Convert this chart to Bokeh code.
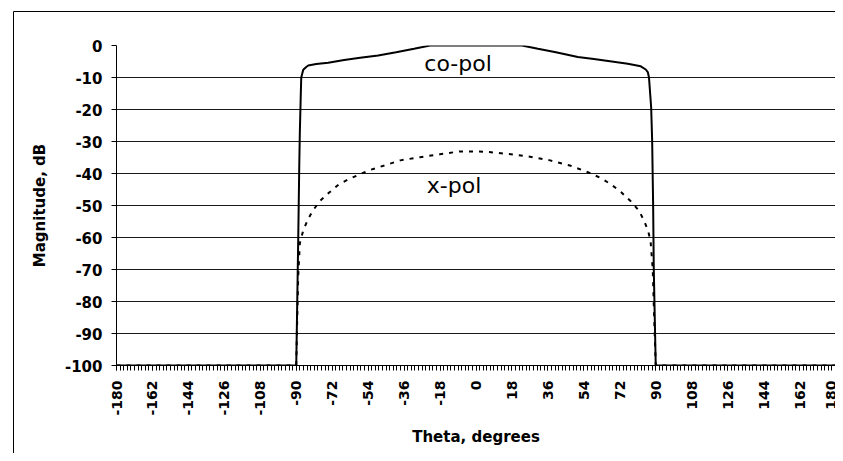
import math
from bokeh.plotting import figure
from bokeh.models import Range1d, FixedTicker
from bokeh.core.properties import value
from bokeh.embed import file_html
from bokeh.resources import INLINE

# ---- data ----
theta_co = [-180, -90, -89.5, -89, -88.5, -88.2, -87.8, -87.5, -86.5, -85, -84,
            -80, -74, -66, -58, -49, -40, -31, -23, 0, 23, 31, 40, 51, 59, 68,
            76, 82.5, 85, 86, 86.6, 87.7, 88.2, 88.7, 89, 89.5, 90, 180]
co_pol = [-100, -100, -80, -60, -38, -27, -17, -10, -7.6, -6.7, -6.25,
          -5.8, -5.4, -4.5, -3.8, -3.1, -2.1, -1.0, 0, 0, 0, -1.0, -2.1, -3.6, -4.2, -5.0,
          -5.7, -6.5, -7.5, -8.3, -9.9, -19.3, -29.7, -50.5, -69.3, -85, -100, -100]

theta_x = [-180, -90, -89.5, -89, -88.2, -86.5, -84.4, -81.9, -78.3, -73.8, -68.7,
           -63.8, -53.6, -43.4, -37.9, -28, -18.1, -8.2, 0, 6.6, 16.5, 26.4, 37.1,
           47, 56.9, 62.7, 67.6, 72.6, 77.5, 81.6, 84.1, 86.1, 87.4, 88.5, 89.2, 90, 180]
x_pol = [-100, -100, -85, -72, -61.8, -57.8, -54.7, -51.8, -48.7, -46.1, -43.4,
         -41.8, -39, -37, -35.9, -34.9, -34, -33.1, -33.1, -33.3, -33.9, -34.7, -35.9,
         -37.5, -39.8, -41.5, -43.4, -45.8, -48.7, -51.6, -54.7, -57.8, -61, -70, -85, -100, -100]

x_ticks = list(range(-180, 181, 18))
y_ticks = list(range(-100, 1, 10))
x_minor = [round(-180 + 1.8 * i, 2) for i in range(201)]

LABEL_FONT = value("DejaVu Sans")
p = figure(width=835, height=453, output_backend="svg", toolbar_location=None,
           x_range=Range1d(-180, 180), y_range=Range1d(-100, 0),
           min_border_left=116, min_border_right=0, min_border_top=45,
           min_border_bottom=88)
p.outline_line_color = None
p.background_fill_color = "white"
p.border_fill_color = None
# outer chart-area border: left and top edges only (the rest runs off the page)
border_svg = ("url(\"data:image/svg+xml;utf8,<svg xmlns='http://www.w3.org/2000/svg' "
              "width='835' height='453'><path d='M13.5 453 V11.5 H835' fill='none' "
              "stroke='black' stroke-width='1'/></svg>\")")
p.styles = {
    "background-color": "white",
    "background-image": border_svg,
    "background-repeat": "no-repeat",
    "background-position": "0 0",
}

# grid
p.xgrid.visible = False
p.ygrid.ticker = FixedTicker(ticks=y_ticks)
p.ygrid.grid_line_color = "#1a1a1a"
p.ygrid.grid_line_width = 1

# x axis
xa = p.xaxis[0]
xa.ticker = FixedTicker(ticks=x_ticks, minor_ticks=x_minor)
xa.major_label_overrides = {t: str(t) for t in x_ticks}
xa.major_label_orientation = math.pi / 2
xa.major_label_text_font = "DejaVu Sans"
xa.major_label_text_font_style = "bold"
xa.major_label_text_font_size = "14px"
xa.major_label_text_color = "black"
xa.major_tick_out = 5
xa.major_tick_in = 0
xa.minor_tick_out = 5
xa.minor_tick_in = 0
xa.major_label_standoff = 10
xa.axis_line_color = "black"
xa.axis_label = "Theta, degrees"
xa.axis_label_text_font = "DejaVu Sans"
xa.axis_label_text_font_style = "bold"
xa.axis_label_text_font_size = "15px"
xa.axis_label_text_color = "black"
xa.axis_label_standoff = 9

# y axis
ya = p.yaxis[0]
ya.ticker = FixedTicker(ticks=y_ticks)
ya.major_label_overrides = {t: str(t) for t in y_ticks}
ya.major_label_text_font = "DejaVu Sans"
ya.major_label_text_font_style = "bold"
ya.major_label_text_font_size = "15px"
ya.major_label_text_color = "black"
ya.major_tick_out = 5
ya.major_tick_in = 0
ya.minor_tick_line_color = None
ya.major_label_standoff = 9
ya.axis_line_color = "black"
ya.axis_label = "Magnitude, dB"
ya.axis_label_text_font = "DejaVu Sans"
ya.axis_label_text_font_style = "bold"
ya.axis_label_text_font_size = "15px"
ya.axis_label_text_color = "black"
ya.axis_label_standoff = 13

# series
p.line(theta_x, x_pol, line_color="black", line_width=2, line_dash="4 6")
p.line(theta_co, co_pol, line_color="black", line_width=2)

# labels
p.text(x=[-9], y=[-5.6], text=["co-pol"], text_align="center", text_baseline="middle",
       text_font=LABEL_FONT, text_font_size="22px", text_color="black")
p.text(x=[-11], y=[-43.7], text=["x-pol"], text_align="center", text_baseline="middle",
       text_font=LABEL_FONT, text_font_size="22px", text_color="black")

open("out.html", "w").write(file_html(p, INLINE))
